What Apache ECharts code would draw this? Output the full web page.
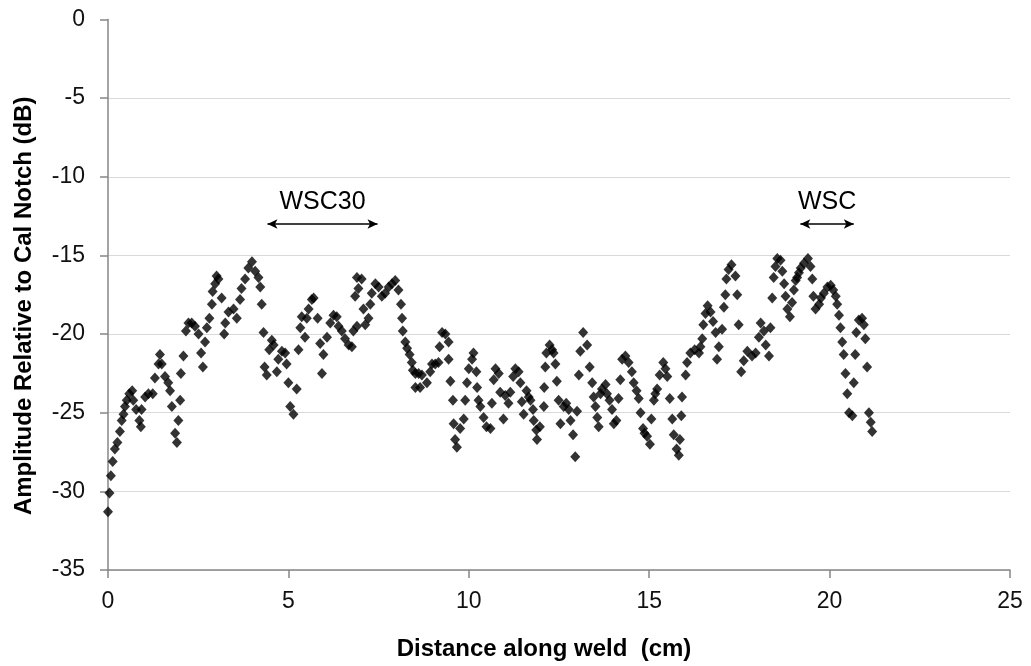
<!DOCTYPE html>
<html>
<head>
<meta charset="utf-8">
<title>Amplitude along weld</title>
<script src="https://cdn.jsdelivr.net/npm/echarts@6/dist/echarts.min.js"></script>
<style>
  html, body { margin: 0; padding: 0; background: #fff; }
  #chart { width: 1031px; height: 666px; }
</style>
</head>
<body>
<div id="chart"></div>
<script>
// Scan position along the weld (cm)
const distance = [
  0.00, 0.04, 0.08, 0.13, 0.19, 0.26, 0.33, 0.38, 0.43, 0.47, 0.52, 0.59, 0.67, 0.70, 0.78, 0.87, 0.91, 0.93, 1.03, 1.12,
  1.24, 1.30, 1.40, 1.44, 1.49, 1.58, 1.67, 1.72, 1.77, 1.86, 1.91, 1.95, 2.00, 2.02, 2.09, 2.16, 2.23, 2.32, 2.41, 2.51,
  2.58, 2.63, 2.69, 2.74, 2.81, 2.88, 2.90, 2.97, 3.01, 3.06, 3.15, 3.22, 3.25, 3.34,
  3.48, 3.57, 3.66, 3.70, 3.80, 3.89, 3.99, 4.08, 4.17, 4.22, 4.26, 4.31, 4.34, 4.40, 4.47, 4.54, 4.59, 4.68, 4.72, 4.82,
  4.91, 4.95, 5.00, 5.05, 5.14, 5.23, 5.28, 5.33, 5.37, 5.46, 5.51, 5.56, 5.65, 5.70, 5.81, 5.88, 5.93, 5.97, 6.07, 6.16,
  6.25, 6.34, 6.39, 6.48, 6.57, 6.67, 6.76, 6.80, 6.85, 6.90, 6.90, 6.94,
  7.03, 7.08, 7.13, 7.22, 7.27, 7.31, 7.41, 7.50, 7.59, 7.68, 7.78, 7.87, 7.96, 8.05, 8.12, 8.15, 8.17, 8.24, 8.29, 8.36,
  8.42, 8.45, 8.52, 8.52, 8.61, 8.65, 8.70, 8.84, 8.93, 8.98, 9.07, 9.16, 9.19, 9.26, 9.35, 9.44, 9.44, 9.49, 9.56, 9.58,
  9.62, 9.67, 9.76, 9.86, 9.90, 9.95, 10.00, 10.09, 10.13, 10.21, 10.23, 10.27, 10.32, 10.41, 10.49,
  10.60, 10.64, 10.69, 10.74, 10.83, 10.87, 10.96, 11.01, 11.10, 11.15, 11.23, 11.29, 11.38, 11.43, 11.47, 11.52, 11.60, 11.66, 11.71, 11.78,
  11.80, 11.87, 11.89, 11.97, 12.08, 12.09, 12.12, 12.15, 12.24, 12.31, 12.35, 12.40, 12.44, 12.49, 12.54, 12.63, 12.70, 12.77, 12.82, 12.89,
  12.95, 13.00, 13.05, 13.09, 13.17, 13.28, 13.35, 13.42, 13.46, 13.51, 13.56, 13.60, 13.65, 13.69, 13.79, 13.83, 13.90, 13.97, 14.02, 14.09,
  14.15,
  14.20, 14.25, 14.34, 14.43, 14.52, 14.57, 14.65, 14.71, 14.76, 14.83, 14.87, 14.94, 15.02, 15.06, 15.13, 15.17, 15.22, 15.29, 15.39, 15.45,
  15.50, 15.57, 15.64, 15.68, 15.76, 15.82, 15.85, 15.89, 15.91, 16.01, 16.05, 16.14, 16.26, 16.38, 16.42, 16.47, 16.50, 16.56, 16.62, 16.70,
  16.77, 16.84, 16.88, 16.93, 17.02, 17.07, 17.11, 17.14, 17.20, 17.28, 17.39, 17.44, 17.48, 17.55, 17.62, 17.72,
  17.85, 17.95, 18.04, 18.09, 18.18, 18.23, 18.32, 18.36, 18.41, 18.45, 18.50, 18.55, 18.64, 18.69, 18.74, 18.78, 18.83, 18.90, 18.96, 19.01,
  19.06, 19.10, 19.15, 19.20, 19.29, 19.40, 19.47, 19.52, 19.55, 19.61, 19.71, 19.76, 19.84, 19.94, 20.03, 20.10, 20.17, 20.21, 20.26, 20.30,
  20.35, 20.39, 20.44, 20.49, 20.54, 20.63, 20.67, 20.71, 20.74, 20.81, 20.90, 20.95, 20.99, 21.04, 21.09, 21.14, 21.18
];

// Echo amplitude relative to the calibration notch (dB)
const amplitude = [
  -31.3, -30.1, -29.0, -28.1, -27.3, -26.9, -26.2, -25.5, -25.1, -24.6, -24.2, -23.8, -23.6, -24.2, -24.8, -25.5, -25.9, -24.8, -24.0, -23.8,
  -23.8, -22.8, -21.9, -21.3, -21.9, -22.7, -23.1, -23.6, -24.6, -26.3, -26.9, -25.5, -24.2, -22.5, -21.4, -19.8, -19.3, -19.3, -19.5, -20.0,
  -21.2, -22.1, -20.5, -19.6, -19.0, -18.1, -17.3, -16.8, -16.3, -16.5, -17.7, -20.0, -19.3, -18.6,
  -18.4, -19.0, -17.8, -17.1, -16.5, -15.8, -15.4, -16.0, -16.4, -17.0, -18.1, -19.9, -22.1, -22.6, -21.0, -20.4, -20.7, -22.4, -21.6, -21.1,
  -21.2, -21.9, -23.1, -24.6, -25.1, -23.5, -21.0, -19.6, -18.9, -20.2, -19.0, -18.4, -17.8, -17.7, -19.0, -20.6, -22.5, -21.3, -20.2, -19.3,
  -18.8, -18.9, -19.5, -19.8, -20.3, -20.7, -20.8, -19.8, -17.6, -16.4, -19.5, -17.1,
  -16.5, -18.4, -19.4, -19.0, -18.1, -17.4, -16.8, -17.0, -17.6, -17.4, -17.0, -16.8, -16.6, -17.2, -18.1, -19.0, -19.8, -20.5, -20.9, -21.3,
  -21.8, -22.3, -22.5, -23.4, -22.5, -23.4, -22.6, -23.1, -22.4, -21.9, -21.9, -21.8, -20.8, -19.9, -20.0, -20.5, -21.6, -23.0, -24.2, -25.7,
  -26.7, -27.2, -26.0, -25.4, -24.2, -23.1, -22.2, -21.6, -21.2, -22.4, -23.4, -24.2, -24.6, -25.3, -25.9,
  -26.0, -24.4, -22.9, -22.2, -22.5, -23.7, -25.4, -23.9, -24.4, -23.7, -22.7, -22.2, -22.4, -23.1, -24.3, -25.1, -23.6, -24.0, -24.2, -24.8,
  -25.5, -26.1, -26.7, -25.9, -24.6, -23.4, -22.1, -21.2, -20.7, -21.0, -21.2, -21.9, -23.0, -24.2, -25.7, -24.6, -24.4, -24.8, -25.5, -26.4,
  -27.8, -24.9, -22.6, -21.1, -19.9, -20.7, -22.1, -23.1, -24.0, -24.6, -25.3, -25.9, -23.8, -23.5, -23.2, -23.8, -24.2, -24.8, -25.7, -25.5,
  -24.1,
  -22.9, -21.6, -21.4, -21.8, -22.4, -23.1, -23.6, -24.1, -25.0, -26.0, -26.3, -26.5, -27.0, -25.4, -24.2, -23.8, -23.5, -22.6, -21.8, -22.2,
  -22.7, -24.1, -25.4, -26.4, -27.3, -27.7, -26.7, -25.2, -24.0, -22.6, -21.8, -21.2, -21.0, -21.2, -20.8, -20.3, -19.4, -18.7, -18.2, -18.6,
  -19.2, -19.9, -21.6, -20.8, -19.7, -18.3, -17.5, -16.5, -15.9, -15.6, -16.3, -17.5, -19.4, -22.4, -21.7, -21.1,
  -21.4, -21.2, -20.2, -19.3, -19.8, -20.7, -21.4, -19.6, -17.7, -16.4, -15.7, -15.2, -15.3, -16.0, -16.8, -17.6, -18.4, -18.9, -18.0, -17.2,
  -16.6, -16.4, -16.1, -15.8, -15.5, -15.2, -15.7, -16.5, -17.6, -18.4, -18.1, -17.7, -17.4, -17.0, -16.9, -17.2, -17.6, -18.1, -18.8, -19.6,
  -20.5, -21.3, -22.5, -23.8, -25.0, -25.2, -23.1, -21.3, -19.9, -19.1, -19.0, -19.4, -20.3, -22.1, -25.0, -25.6, -26.2
];

// Marked weld regions (double-headed arrows)
const spanNames = ['WSC30', 'WSC'];
const spanStart = [4.42, 19.19];
const spanEnd = [7.47, 20.67];
const spanLevel = [-13, -13];

const FONT = '"Liberation Sans", Arial, sans-serif';

const points = distance.map((d, i) => [d, amplitude[i]]);
const spans = spanNames.map((name, i) => [
  { name: name, coord: [spanStart[i], spanLevel[i]] },
  { coord: [spanEnd[i], spanLevel[i]] }
]);

const chart = echarts.init(document.getElementById('chart'), null, { renderer: 'canvas' });

chart.setOption({
  animation: false,
  backgroundColor: '#ffffff',
  grid: { left: 108, right: 21, top: 19.5, bottom: 96, containLabel: false },
  xAxis: {
    type: 'value',
    min: 0, max: 25, interval: 5,
    name: 'Distance along weld  (cm)',
    nameLocation: 'middle',
    nameGap: 67,
    nameTextStyle: {
      fontFamily: FONT, fontSize: 24, fontWeight: 'bold', color: '#000',
      padding: [0, 30, 0, 0]
    },
    axisLine: { show: true, onZero: false, lineStyle: { color: '#868686', width: 1.5 } },
    axisTick: { show: true, inside: false, length: 8, lineStyle: { color: '#868686', width: 1.5 } },
    axisLabel: { fontFamily: FONT, fontSize: 23, color: '#111', margin: 20 },
    splitLine: { show: false }
  },
  yAxis: {
    type: 'value',
    min: -35, max: 0, interval: 5,
    name: 'Amplitude Relative to Cal Notch (dB)',
    nameLocation: 'middle',
    nameGap: 72,
    nameTextStyle: {
      fontFamily: FONT, fontSize: 24, fontWeight: 'bold', color: '#000',
      padding: [0, 22, 0, 0]
    },
    axisLine: { show: true, lineStyle: { color: '#868686', width: 1.5 } },
    axisTick: { show: true, inside: false, length: 8, lineStyle: { color: '#868686', width: 1.5 } },
    axisLabel: { fontFamily: FONT, fontSize: 23, color: '#111', margin: 23 },
    splitLine: { show: true, showMaxLine: false, lineStyle: { color: '#d9d9d9', width: 1.2 } }
  },
  series: [{
    type: 'scatter',
    data: points,
    symbol: 'diamond',
    symbolSize: [10, 11],
    itemStyle: { color: '#000' },
    silent: true,
    markLine: {
      silent: true,
      symbol: ['arrow', 'arrow'],
      symbolSize: [7, 10],
      lineStyle: { color: '#000', width: 1.5, type: 'solid' },
      label: {
        show: true,
        position: 'middle',
        distance: 9,
        formatter: p => p.name,
        fontFamily: FONT,
        fontSize: 25,
        color: '#000'
      },
      data: spans
    }
  }]
});
</script>
</body>
</html>
